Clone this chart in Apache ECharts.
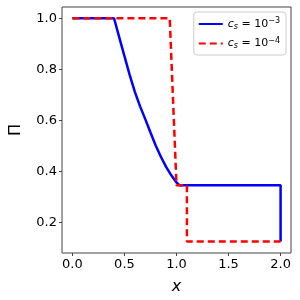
<!DOCTYPE html>
<html><head><meta charset="utf-8">
<script src="https://cdn.jsdelivr.net/npm/echarts@6/dist/echarts.min.js"></script>
<style>html,body{margin:0;padding:0;background:#fff}#c{width:300px;height:300px}</style>
</head><body><div id="c"></div>
<script>
const seriesNames = ['cs3', 'cs4'];
const blueX = [0.0, 0.40, 0.45, 0.50, 0.55, 0.60, 0.65, 0.70, 0.75, 0.80, 0.85, 0.90, 0.95, 1.00, 1.03, 2.0, 2.0];
const blueY = [1.0, 1.0, 0.925, 0.852, 0.778, 0.712, 0.655, 0.605, 0.553, 0.502, 0.458, 0.418, 0.385, 0.357, 0.346, 0.346, 0.126];
const redX = [0.0, 0.935, 1.0, 1.1, 1.1, 2.0];
const redY = [1.0, 1.0, 0.346, 0.346, 0.126, 0.126];
const xTicks = [0.0, 0.5, 1.0, 1.5, 2.0];
const yTicks = [0.2, 0.4, 0.6, 0.8, 1.0];
const legendLabels = {cs3: '{i|c}{sub|s}{n| = 10}{sup|−3}', cs4: '{i|c}{sub|s}{n| = 10}{sup|−4}'};

const zip = (xs, ys) => xs.map((x, i) => [x, ys[i]]);
const chart = echarts.init(document.getElementById('c'));
const font = 'DejaVu Sans';
chart.setOption({
  animation: false,
  grid: {left: 56, right: 9, top: 7, bottom: 47, show: true, borderColor: '#444', borderWidth: 1},
  xAxis: {
    type: 'value', min: -0.1, max: 2.1,
    name: 'x', nameLocation: 'middle', nameGap: 26,
    nameTextStyle: {fontFamily: font, fontSize: 16, fontStyle: 'italic', color: '#000'},
    axisLine: {show: false, onZero: false},
    axisTick: {show: true, length: 3, customValues: xTicks, lineStyle: {color: '#444'}},
    axisLabel: {customValues: xTicks, fontFamily: font, fontSize: 13, color: '#000', margin: 5,
      formatter: v => v.toFixed(1)},
    splitLine: {show: false}
  },
  yAxis: {
    type: 'value', min: 0.081, max: 1.044,
    name: 'Π', nameLocation: 'middle', nameGap: 38, nameRotate: 90,
    nameTextStyle: {fontFamily: font, fontSize: 16, color: '#000'},
    axisLine: {show: false, onZero: false},
    axisTick: {show: true, length: 3, customValues: yTicks, lineStyle: {color: '#444'}},
    axisLabel: {customValues: yTicks, fontFamily: font, fontSize: 13, color: '#000', margin: 5,
      formatter: v => v.toFixed(1)},
    splitLine: {show: false}
  },
  legend: {
    right: 14, top: 12, orient: 'vertical', itemWidth: 24, itemHeight: 10, itemGap: 6,
    padding: [5, 6, 5, 4],
    backgroundColor: '#fff', borderColor: '#ccc', borderWidth: 1, borderRadius: 3,
    data: seriesNames,
    itemStyle: {opacity: 0},
    formatter: n => legendLabels[n],
    textStyle: {
      fontFamily: font, fontSize: 11, color: '#000',
      rich: {
        i: {fontFamily: font, fontSize: 11, fontStyle: 'italic'},
        sub: {fontFamily: font, fontSize: 8, fontStyle: 'italic', padding: [5, 0, 0, 0]},
        n: {fontFamily: font, fontSize: 11},
        sup: {fontFamily: font, fontSize: 8, padding: [0, 0, 6, 0]}
      }
    }
  },
  series: [
    {name: 'cs3', type: 'line', data: zip(blueX, blueY), showSymbol: false, symbol: 'none',
      lineStyle: {color: '#0000ff', width: 2.5}, itemStyle: {color: '#0000ff'}, z: 2},
    {name: 'cs4', type: 'line', data: zip(redX, redY), showSymbol: false, symbol: 'none',
      lineStyle: {color: '#ff0000', width: 2.5, type: [7, 4]}, itemStyle: {color: '#ff0000'}, z: 3}
  ]
});
</script></body></html>
